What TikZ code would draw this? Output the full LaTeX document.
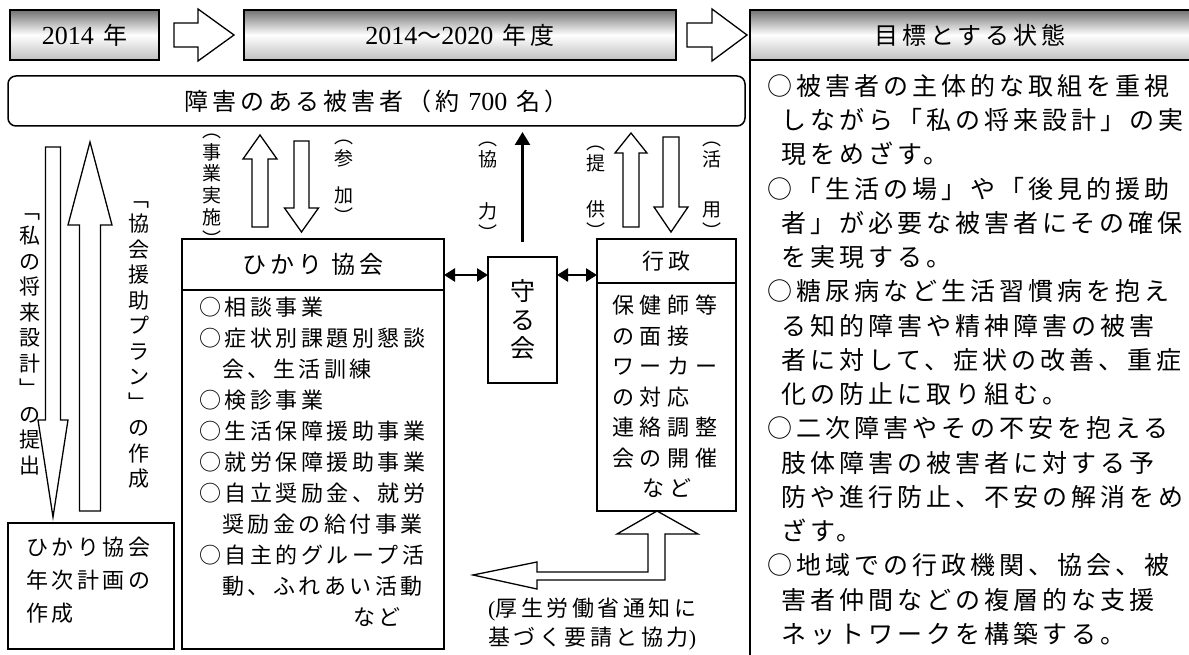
\documentclass[tikz,border=0pt]{standalone}
\usepackage{fontspec}
\setmainfont{Liberation Serif}
\newfontfamily\jp[LetterSpace=16]{Noto Sans CJK JP}
\newfontfamily\jpw[LetterSpace=26]{Noto Sans CJK JP}
\newfontfamily\jpn{Noto Sans CJK JP}
\newcommand{\dg}[1]{{\rmfamily\fontsize{26}{28}\selectfont #1}}
\usetikzlibrary{positioning,arrows.meta}

\tikzset{
  box/.style={draw, line width=1.5pt, inner sep=0pt, outer sep=0pt},
  headbox/.style={box, top color=black!55, bottom color=black!25, middle color=white},
  hd/.style={font={\jp\fontsize{24}{28}\selectfont}},
  txt/.style={inner sep=0pt, align=left, anchor=north west},
  vlab/.style={inner sep=0pt, align=center, font={\jpn\fontsize{19}{21.7}\selectfont}},
  vlong/.style={inner sep=0pt, align=center, font={\jpn\fontsize{21}{25.5}\selectfont}},
  barrow/.style={draw, line width=1.3pt, fill=white, line join=miter},
  dbl/.style={>={Triangle[length=11pt,width=13pt]}, <->, line width=2.5pt},
  thinarr/.style={arrows={-Triangle[length=13pt,width=15pt]}, line width=2.5pt}
}

% block arrows: x, tail, base, tip, shaft half, head half
\newcommand{\blockv}[6]{\draw[barrow] ({#1-#5},#2) -- ({#1-#5},#3) -- ({#1-#6},#3) -- (#1,#4) -- ({#1+#6},#3) -- ({#1+#5},#3) -- ({#1+#5},#2) -- cycle;}
\newcommand{\blockh}[6]{\draw[barrow] (#2,{#1-#5}) -- (#3,{#1-#5}) -- (#3,{#1-#6}) -- (#4,#1) -- (#3,{#1+#6}) -- (#3,{#1+#5}) -- (#2,{#1+#5}) -- cycle;}

\begin{document}
\begin{tikzpicture}[x=1pt, y=-1pt]
  \useasboundingbox (0,0) rectangle (1189,655);
  % Define nodes
  \node[headbox, hd, minimum width=149pt, minimum height=50pt, anchor=north west] (year) at (10,10) {\dg{2014} 年};
  \node[headbox, hd, minimum width=432pt, minimum height=50pt, anchor=north west] (period) at (244,10) {\dg{2014}～\dg{2020} 年度};
  \node[headbox, hd, minimum width=440pt, minimum height=50pt, anchor=north west] (goal) at (750,10) {目標とする状態};
  \node[box, minimum width=440pt, minimum height=610pt, below=0pt of goal] (goalbody) {};
  \node[box, hd, rounded corners=8pt, minimum width=737pt, minimum height=50pt, anchor=north west] (victims) at (8,76) {障害のある被害者（約 \dg{700} 名）};
  \node[box, hd, minimum width=262pt, minimum height=51pt, anchor=north west] (hikari) at (182,239) {ひかり 協会};
  \node[box, minimum width=262pt, minimum height=359pt, below=0pt of hikari] (hikaribody) {};
  \node[box, minimum width=166pt, minimum height=126pt, anchor=north west] (plan) at (8,523) {};
  \node[box, align=center, font={\jpn\fontsize{25}{28.5}\selectfont}, minimum width=69pt, minimum height=126pt, anchor=north west] (mamoru) at (488,257) {守\\る\\会};
  \node[box, font={\jp\fontsize{22}{26}\selectfont}, minimum width=139pt, minimum height=44pt, anchor=north west] (gyosei) at (597,239) {行政};
  \node[box, minimum width=139pt, minimum height=228pt, below=0pt of gyosei] (gyoseibody) {};

  % texts
  \node[txt, font={\jp\fontsize{25}{34.25}\selectfont}] (goaltext) at (767,74) {○被害者の主体的な取組を重視\\
    \hspace*{14pt}しながら「私の将来設計」の実\\
    \hspace*{14pt}現をめざす。\\
    ○「生活の場」や「後見的援助\\
    \hspace*{14pt}者」が必要な被害者にその確保\\
    \hspace*{14pt}を実現する。\\
    ○糖尿病など生活習慣病を抱え\\
    \hspace*{14pt}る知的障害や精神障害の被害\\
    \hspace*{14pt}者に対して、症状の改善、重症\\
    \hspace*{14pt}化の防止に取り組む。\\
    ○二次障害やその不安を抱える\\
    \hspace*{14pt}肢体障害の被害者に対する予\\
    \hspace*{14pt}防や進行防止、不安の解消をめ\\
    \hspace*{14pt}ざす。\\
    ○地域での行政機関、協会、被\\
    \hspace*{14pt}害者仲間などの複層的な支援\\
    \hspace*{14pt}ネットワークを構築する。};
  \node[txt, font={\jp\fontsize{22}{31}\selectfont}] (hikaritext) at (199,297) {○相談事業\\
    ○症状別課題別懇談\\
    \hspace*{23pt}会、生活訓練\\
    ○検診事業\\
    ○生活保障援助事業\\
    ○就労保障援助事業\\
    ○自立奨励金、就労\\
    \hspace*{23pt}奨励金の給付事業\\
    ○自主的グループ活\\
    \hspace*{23pt}動、ふれあい活動\\
    \hspace*{154pt}など};
  \node[txt, font={\jp\fontsize{22}{33}\selectfont}] (plantext) at (26,537) {ひかり協会\\年次計画の\\作成};
  \node[txt, font={\jpw\fontsize{22}{30.5}\selectfont}] (gyoseitext) at (612,295) {保健師等\\の面接\\ワーカー\\の対応\\連絡調整\\会の開催\\\hspace*{30pt}など};
  \node[txt, font={\jp\fontsize{22}{29}\selectfont}] (request) at (488,598) {{\rmfamily (}厚生労働省通知に\\基づく要請と協力{\rmfamily )}};

  % vertical labels
  \node[vlong] (teishutsu) at (30,344) {﹁\\私\\の\\将\\来\\設\\計\\﹂\\の\\提\\出};
  \node[vlong] (sakusei) at (139,345) {﹁\\協\\会\\援\\助\\プ\\ラ\\ン\\﹂\\の\\作\\成};
  \node[vlab] (jisshi) at (212,190) {︵\\事\\業\\実\\施\\︶};
  \node[vlab] (sanka) at (344,182) {︵\\参\\[15pt]加\\︶};
  \node[vlab] (kyoryoku) at (488,191) {︵\\協\\[30pt]力\\︶};
  \node[vlab] (teikyo) at (596,192) {︵\\提\\[24pt]供\\︶};
  \node[vlab] (katsuyo) at (712,190) {︵\\活\\[28pt]用\\︶};

  % Connect nodes
  \blockh{35}{174}{198}{234}{12}{26}
  \blockh{35}{687}{712}{747}{12}{26}
  \blockv{53}{147}{420}{517}{7.5}{15}
  \blockv{90}{511}{225}{142}{10.5}{22}
  \blockv{260}{227}{159}{135}{8}{17}
  \blockv{301.5}{141}{208}{232}{7.5}{17}
  \blockv{631}{227}{153}{133}{8}{16}
  \blockv{671}{137}{207}{232}{8}{17}
  \draw[barrow] (473,575) -- (537,562) -- (537,572) -- (648,572) -- (648,534) -- (617,534) -- (657,511) -- (698,534) -- (665,534) -- (665,580) -- (537,580) -- (537,589) -- cycle;
  \coordinate (dy) at ([yshift=-10.5pt]hikari.east);
  \draw[dbl] (dy) -- (dy -| mamoru.west);
  \draw[dbl] (dy -| mamoru.east) -- (dy -| gyosei.west);
  \coordinate (kyo) at ([yshift=15pt]mamoru.north);
  \draw[thinarr, shorten >=6pt] (kyo) -- (kyo |- victims.south);
\end{tikzpicture}
\end{document}
